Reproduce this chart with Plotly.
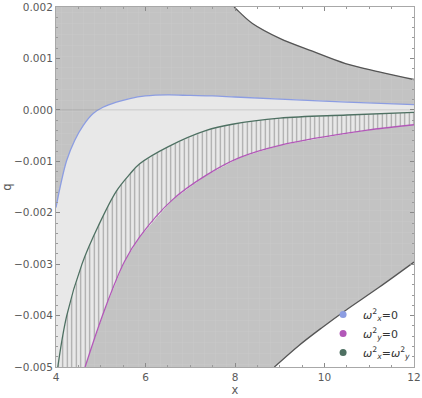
import plotly.graph_objects as go

# ---------------- data ----------------
# curve omega_x^2 = 0 (blue)
x_blue = [4.0, 4.09, 4.24, 4.42, 4.61, 4.83, 5.05, 5.35, 5.65, 6.0, 6.5, 7.0, 7.5, 8.0, 9.0, 10.5, 12.0]
q_blue = [-0.0019, -0.00151, -0.00098, -0.00059, -0.0003, -0.00007, 0.00005, 0.00015, 0.00022,
          0.00027, 0.00029, 0.00028, 0.00027, 0.00025, 0.00021, 0.00015, 0.0001]

# curve omega_x^2 = omega_y^2 (dark green)
x_green = [4.04, 4.24, 4.58, 4.95, 5.35, 5.65, 5.87, 6.5, 7.36, 7.94, 9.0, 10.5, 12.0]
q_green = [-0.005, -0.004, -0.003, -0.00225, -0.00158, -0.00125, -0.00105, -0.00072, -0.0004,
           -0.00028, -0.00016, -0.0001, -0.00005]

# curve omega_y^2 = 0 (magenta)
x_mag = [4.65, 5.08, 5.53, 5.87, 6.6, 7.36, 8.1, 9.0, 10.92, 12.0]
q_mag = [-0.005, -0.0039, -0.00295, -0.00247, -0.00175, -0.00127, -0.00093, -0.00069, -0.0004, -0.00029]

# upper boundary of allowed region
x_up = [7.98, 8.1, 8.39, 9.0, 9.73, 10.47, 11.22, 12.0]
q_up = [0.002, 0.0019, 0.00168, 0.00139, 0.00114, 0.0009, 0.00074, 0.00059]

# lower boundary of allowed region
x_low = [8.88, 9.43, 9.95, 10.47, 11.22, 12.0]
q_low = [-0.005, -0.00458, -0.00423, -0.0039, -0.00345, -0.00296]

legend_names = ["<i>ω</i><sup>2</sup><sub><i>x</i></sub>=0",
                "<i>ω</i><sup>2</sup><sub><i>y</i></sub>=0",
                "<i>ω</i><sup>2</sup><sub><i>x</i></sub>=<i>ω</i><sup>2</sup><sub><i>y</i></sub>"]

x_ticks = [4, 6, 8, 10, 12]
X_RANGE = [4, 12]
Q_RANGE = [-0.005, 0.002]

# ---------------- styles ----------------
DARK = '#c3c3c3'
LIGHT = '#e8e8e8'
C_BLUE = '#8c9de2'
C_MAG = '#b258b8'
C_GREEN = '#4e7062'
C_BOUND = '#555555'
FONT = 'DejaVu Sans'
DARK_TEXTURE = dict(shape='+', size=11, solidity=0.06, fgcolor='#cbcbcb', bgcolor=DARK,
                    fillmode='replace')
HATCH = dict(shape='|', size=4.5, solidity=0.25, fgcolor='#a2a2a2', bgcolor=LIGHT,
             fillmode='replace')

fig = go.Figure()


def region(xs, ys, color, pattern=None):
    kw = dict(x=xs, y=ys, mode='lines', line=dict(width=0), fill='toself', fillcolor=color,
              hoverinfo='skip', showlegend=False)
    if pattern is not None:
        kw['fillpattern'] = pattern
    fig.add_trace(go.Scatter(**kw))


# dark region: everything above the blue curve (up to the frame top)
region(x_blue + [X_RANGE[1], X_RANGE[0]], q_blue + [Q_RANGE[1], Q_RANGE[1]], DARK, DARK_TEXTURE)
# dark region: everything below the magenta curve (down to the frame bottom)
region(x_mag + [X_RANGE[1]], q_mag + [Q_RANGE[0]], DARK, DARK_TEXTURE)
# white region above the upper boundary
region(x_up + [X_RANGE[1]], q_up + [Q_RANGE[1]], 'white')
# white region below the lower boundary
region(x_low + [X_RANGE[1]], q_low + [Q_RANGE[0]], 'white')
# light region between blue and green curves
region(x_blue + x_green[::-1] + [X_RANGE[0]], q_blue + q_green[::-1] + [Q_RANGE[0]], LIGHT)
# hatched band between green and magenta
region(x_green + x_mag[::-1], q_green + q_mag[::-1], LIGHT, HATCH)

# curve lines
for xs, ys, col in [(x_up, q_up, C_BOUND), (x_low, q_low, C_BOUND),
                    (x_blue, q_blue, C_BLUE), (x_mag, q_mag, C_MAG), (x_green, q_green, C_GREEN)]:
    fig.add_trace(go.Scatter(x=xs, y=ys, mode='lines',
                             line=dict(color=col, width=1.3, shape='spline', smoothing=1),
                             hoverinfo='skip', showlegend=False))

# legend entries
for i, (name, col) in enumerate(zip(legend_names, [C_BLUE, C_MAG, C_GREEN])):
    fig.add_trace(go.Scatter(x=[None], y=[None], mode='markers', name=name, legendgroup=f'g{i}',
                             marker=dict(color=col, size=7)))

axis_common = dict(showline=True, linecolor='#a8a8a8', linewidth=1, mirror='allticks',
                   ticks='inside', ticklen=4, tickcolor='#8a8a8a', showgrid=False, zeroline=False,
                   automargin=False,
                   tickfont=dict(family=FONT, size=10.5, color='#5a5a5a'))

fig.update_layout(
    width=422, height=398,
    margin=dict(l=56, r=7, t=7, b=31),
    plot_bgcolor='white', paper_bgcolor='white',
    font=dict(family=FONT, color='#5a5a5a'),
    xaxis=dict(range=X_RANGE, tickvals=x_ticks,
               minor=dict(dtick=0.5, ticks='inside', ticklen=2, tickcolor='#9a9a9a'),
               title=dict(text='x', font=dict(size=11.5), standoff=2), **axis_common),
    yaxis=dict(range=Q_RANGE, dtick=0.001, tickformat='.3f',
               minor=dict(dtick=0.0002, ticks='inside', ticklen=2, tickcolor='#9a9a9a'),
               title=dict(text='q', font=dict(size=11.5), standoff=4), **axis_common),
    legend=dict(x=1.003, y=0.0, xanchor='right', yanchor='bottom', bgcolor='rgba(0,0,0,0)',
                traceorder='normal', tracegroupgap=13,
                font=dict(family=FONT, size=11, color='#333333')),
    shapes=[dict(type='line', xref='paper', x0=0, x1=1, yref='y', y0=0, y1=0,
                 line=dict(color='rgba(120,120,120,0.25)', width=1), layer='above')],
)

fig.write_html("out.html", config={'displayModeBar': False},
               post_script="document.body.style.margin='0px';")
